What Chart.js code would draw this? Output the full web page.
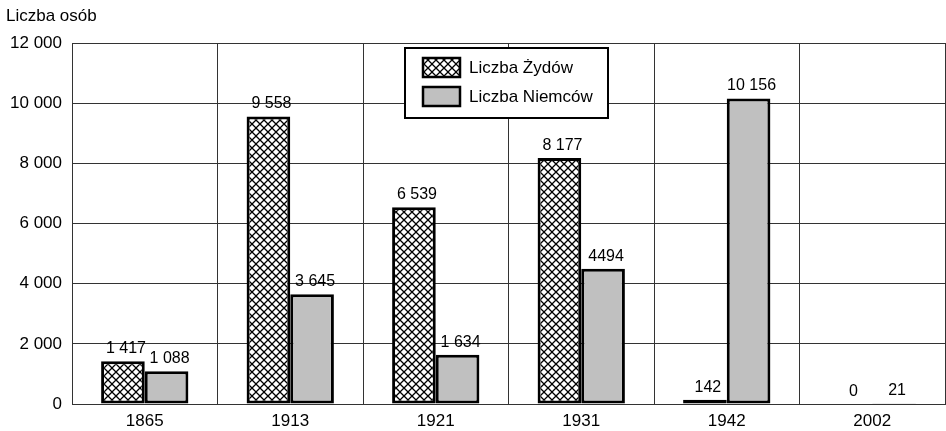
<!DOCTYPE html>
<html>
<head>
<meta charset="utf-8">
<script src="https://cdn.jsdelivr.net/npm/chart.js@4"></script>
<style>
  html, body { margin: 0; padding: 0; background: #fff; }
</style>
</head>
<body>
<canvas id="chart" width="946" height="431"></canvas>
<script>
var years = ['1865', '1913', '1921', '1931', '1942', '2002'];
var jews = [1417, 9558, 6539, 8177, 142, 0];
var germans = [1088, 3645, 1634, 4494, 10156, 21];
// labels as printed in the source (note 4494 has no separator)
var jewsText = ['1 417', '9 558', '6 539', '8 177', '142', '0'];
var germansText = ['1 088', '3 645', '1 634', '4494', '10 156', '21'];
var seriesNames = ['Liczba Żydów', 'Liczba Niemców'];
var yTitle = 'Liczba osób';

var FONT = '"Liberation Sans", Arial, sans-serif';
var canvas = document.getElementById('chart');
var ctx = canvas.getContext('2d');

// crosshatch fill for the first series
function makeHatch() {
    var s = 8;
    var c = document.createElement('canvas');
    c.width = s;
    c.height = s;
    var g = c.getContext('2d');
    g.fillStyle = '#fff';
    g.fillRect(0, 0, s, s);
    g.strokeStyle = '#000';
    g.lineWidth = 1.3;
    g.beginPath();
    g.moveTo(-1, -1); g.lineTo(s + 1, s + 1);
    g.moveTo(s + 1, -1); g.lineTo(-1, s + 1);
    g.stroke();
    return ctx.createPattern(c, 'repeat');
}
var hatch = makeHatch();
var grey = '#c0c0c0';

function spaced(v) {
    return String(v).replace(/\B(?=(\d{3})+(?!\d))/g, ' ');
}

// value labels above bars
var valueLabels = {
    id: 'valueLabels',
    afterDatasetsDraw: function(chart) {
        var c = chart.ctx;
        c.save();
        c.font = '16px ' + FONT;
        c.fillStyle = '#000';
        c.textAlign = 'center';
        c.textBaseline = 'alphabetic';
        [jewsText, germansText].forEach(function(texts, i) {
            chart.getDatasetMeta(i).data.forEach(function(bar, j) {
                c.fillText(texts[j], bar.x + 3, bar.y - 8);
            });
        });
        c.restore();
    }
};

// title at top-left and boxed legend inside the plot
var extras = {
    id: 'extras',
    afterDraw: function(chart) {
        var c = chart.ctx;
        c.save();
        c.fillStyle = '#000';
        c.font = '17px ' + FONT;
        c.textAlign = 'left';
        c.textBaseline = 'alphabetic';
        c.fillText(yTitle, 6, 21);

        // legend box
        c.fillStyle = '#fff';
        c.fillRect(405, 48, 203, 70);
        c.strokeStyle = '#000';
        c.lineWidth = 2;
        c.strokeRect(405, 48, 203, 70);

        var fills = [hatch, grey];
        var ys = [58, 87];
        for (var i = 0; i < 2; i++) {
            c.fillStyle = fills[i];
            c.fillRect(423, ys[i], 37, 19);
            c.lineWidth = 2.5;
            c.strokeRect(423, ys[i], 37, 19);
            c.fillStyle = '#000';
            c.font = '17px ' + FONT;
            c.textBaseline = 'middle';
            c.fillText(seriesNames[i], 469, ys[i] + 10);
        }
        c.restore();
    }
};

new Chart(ctx, {
    type: 'bar',
    data: {
        labels: years,
        datasets: [
            {
                label: seriesNames[0],
                data: jews,
                backgroundColor: hatch,
                borderColor: '#000',
                borderWidth: 3,
                borderSkipped: false
            },
            {
                label: seriesNames[1],
                data: germans,
                backgroundColor: grey,
                borderColor: '#000',
                borderWidth: 3,
                borderSkipped: false
            }
        ]
    },
    options: {
        responsive: false,
        animation: false,
        layout: { padding: { top: 43, right: 1, left: 0, bottom: 0 } },
        datasets: {
            bar: { categoryPercentage: 0.6, barPercentage: 1 }
        },
        plugins: {
            legend: { display: false },
            title: { display: false },
            tooltip: { enabled: false }
        },
        scales: {
            x: {
                grid: { color: '#333', lineWidth: 1, offset: true, drawTicks: false },
                border: { color: '#333', width: 1 },
                ticks: { color: '#000', padding: 7, font: { family: FONT, size: 17 } },
                afterFit: function(s) { s.height = 27; }
            },
            y: {
                min: 0,
                max: 12000,
                grid: { color: '#333', lineWidth: 1, drawTicks: false },
                border: { color: '#333', width: 1 },
                ticks: {
                    stepSize: 2000,
                    color: '#000',
                    padding: 10,
                    font: { family: FONT, size: 17 },
                    callback: function(v) { return spaced(v); }
                },
                afterFit: function(s) { s.width = 72; }
            }
        }
    },
    plugins: [valueLabels, extras]
});
</script>
</body>
</html>
